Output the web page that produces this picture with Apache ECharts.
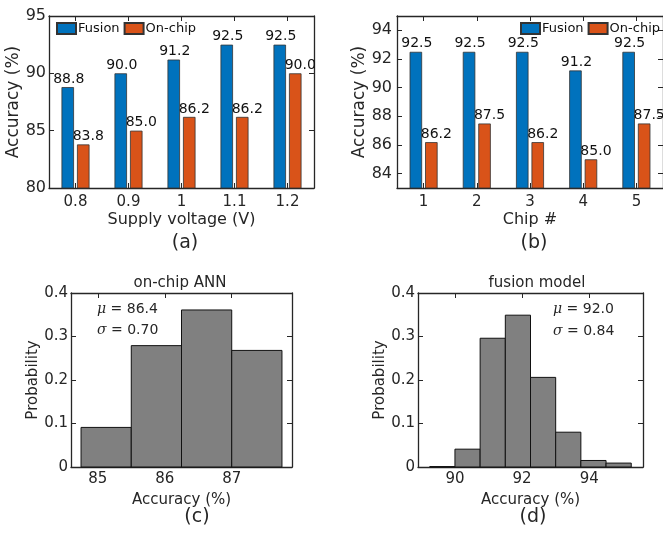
<!DOCTYPE html>
<html>
<head>
<meta charset="utf-8">
<script src="https://cdn.jsdelivr.net/npm/echarts@6/dist/echarts.min.js"></script>
<style>html,body{margin:0;padding:0;background:#fff}#c{width:663px;height:538px}</style>
</head>
<body>
<div id="c"></div>
<script>
const voltages = ['0.8', '0.9', '1', '1.1', '1.2'];
const fusionByVoltage = [88.8, 90.0, 91.2, 92.5, 92.5];
const onchipByVoltage = [83.8, 85.0, 86.2, 86.2, 90.0];
const chips = ['1', '2', '3', '4', '5'];
const fusionByChip = [92.5, 92.5, 92.5, 91.2, 92.5];
const onchipByChip = [86.2, 87.5, 86.2, 85.0, 87.5];
const onchipBinEdges = [84.75, 85.5, 86.25, 87.0, 87.75];
const onchipProb = [0.091, 0.279, 0.361, 0.268];
const fusionBinEdges = [89.25, 90.0, 90.75, 91.5, 92.25, 93.0, 93.75, 94.5, 95.25];
const fusionProb = [0.001, 0.041, 0.296, 0.349, 0.206, 0.080, 0.015, 0.009];
const ticksA = [80, 85, 90, 95];
const ticksB = [84, 86, 88, 90, 92, 94];
const ticksC = [85, 86, 87];
const ticksD = [90, 92, 94];
const ticksProb = [0, 0.1, 0.2, 0.3, 0.4];

const FONT = 'DejaVu Sans';
const TXT = '#262626';
const BLUE = '#0072BD';
const ORANGE = '#D95319';

function binsToData(edges, probs) {
  return probs.map((p, i) => [edges[i], edges[i + 1], p]);
}

const tickIn = { show: true, inside: true, length: 5, lineStyle: { color: TXT, width: 1 } };
const lineBox = { show: true, onZero: false, lineStyle: { color: TXT, width: 1.3 } };

function catAxis(grid, data, pos, showLabel, name, nameGap) {
  return {
    type: 'category', gridIndex: grid, data: data, position: pos,
    axisLine: lineBox,
    axisTick: Object.assign({ alignWithLabel: true }, tickIn),
    axisLabel: { show: showLabel, color: TXT, fontFamily: FONT, fontSize: 15, margin: 7 },
    name: name || '', nameLocation: 'middle', nameGap: nameGap || 0,
    nameTextStyle: { color: TXT, fontFamily: FONT, fontSize: 16 }
  };
}
function valAxis(grid, min, max, ticks, pos, showLabel, name, nameGap, fs, margin, fmt, nameFs) {
  return {
    type: 'value', gridIndex: grid, min: min, max: max, position: pos,
    axisLine: lineBox,
    splitLine: { show: false },
    axisTick: Object.assign({ customValues: ticks }, tickIn),
    axisLabel: { show: showLabel, customValues: ticks, color: TXT, fontFamily: FONT, fontSize: fs, margin: margin, formatter: fmt },
    name: name || '', nameLocation: 'middle', nameGap: nameGap || 0,
    nameTextStyle: { color: TXT, fontFamily: FONT, fontSize: nameFs || fs }
  };
}

function barSeries(name, x, y, data, color, dx) {
  return {
    type: 'bar', name: name, xAxisIndex: x, yAxisIndex: y, data: data,
    barWidth: 12.5, barGap: '24%',
    itemStyle: { color: color, borderColor: '#333', borderWidth: 0.8 },
    label: { show: true, position: 'top', distance: 1, offset: [dx, 0], color: '#111', fontFamily: FONT, fontSize: 14,
             formatter: p => p.value.toFixed(1) }
  };
}
function histSeries(x, y, data) {
  return {
    type: 'custom', xAxisIndex: x, yAxisIndex: y, data: data,
    encode: { x: [0, 1], y: 2 },
    renderItem: function (params, api) {
      const a = api.coord([api.value(0), api.value(2)]);
      const b = api.coord([api.value(1), 0]);
      return { type: 'rect', shape: { x: a[0], y: a[1], width: b[0] - a[0], height: b[1] - a[1] },
               style: { fill: '#808080', stroke: '#111', lineWidth: 1 } };
    }
  };
}
function txt(x, y, text, size, align, extra) {
  return Object.assign({ type: 'text', x: x, y: y,
    style: { text: text, fill: TXT, font: size + 'px "' + FONT + '"', align: align || 'center', verticalAlign: 'middle' } }, extra || {});
}
function stat(x, y, sym, val) {
  return { type: 'text', x: x, y: y,
    style: { text: '{i|' + sym + '} = ' + val, fill: TXT, font: '14px "' + FONT + '"', align: 'left', verticalAlign: 'middle',
             rich: { i: { fontStyle: 'italic', fontFamily: 'DejaVu Serif', fontSize: 14, fill: TXT } } } };
}

const probFmt = v => (v === 0 ? '0' : v.toFixed(1));

const option = {
  animation: false,
  backgroundColor: '#fff',
  grid: [
    { left: 49, top: 16, width: 265, height: 172 },
    { left: 397, top: 16, width: 268, height: 172 },
    { left: 71, top: 293, width: 221, height: 174 },
    { left: 418, top: 293, width: 225, height: 174 }
  ],
  xAxis: [
    catAxis(0, voltages, 'bottom', true, 'Supply voltage (V)', 24),
    catAxis(0, voltages, 'top', false),
    catAxis(1, chips, 'bottom', true, 'Chip #', 24),
    catAxis(1, chips, 'top', false),
    valAxis(2, 84.6, 87.9, ticksC, 'bottom', true, 'Accuracy (%)', 26, 15, 5, undefined, 15),
    valAxis(2, 84.6, 87.9, ticksC, 'top', false),
    valAxis(3, 88.9, 95.6, ticksD, 'bottom', true, 'Accuracy (%)', 26, 15, 5, undefined, 15),
    valAxis(3, 88.9, 95.6, ticksD, 'top', false)
  ],
  yAxis: [
    valAxis(0, 80, 95, ticksA, 'left', true, 'Accuracy (%)', 19, 16, 3, undefined, 17),
    valAxis(0, 80, 95, ticksA, 'right', false),
    valAxis(1, 83, 95, ticksB, 'left', true, 'Accuracy (%)', 21, 16, 5, undefined, 17),
    valAxis(1, 83, 95, ticksB, 'right', false),
    valAxis(2, 0, 0.4, ticksProb, 'left', true, 'Probability', 29, 15, 3, probFmt, 15),
    valAxis(2, 0, 0.4, ticksProb, 'right', false),
    valAxis(3, 0, 0.4, ticksProb, 'left', true, 'Probability', 28, 15, 3, probFmt, 15),
    valAxis(3, 0, 0.4, ticksProb, 'right', false)
  ],
  legend: [
    { left: 56, top: 22, padding: 0, itemWidth: 19, itemHeight: 11, itemGap: 4, icon: 'rect',
      data: ['Fusion', 'On-chip'], textStyle: { color: '#111', fontFamily: FONT, fontSize: 13, padding: [0, 0, 0, -3] } },
    { left: 520, top: 22, padding: 0, itemWidth: 19, itemHeight: 11, itemGap: 4, icon: 'rect',
      data: ['Fusion', 'On-chip'], textStyle: { color: '#111', fontFamily: FONT, fontSize: 13, padding: [0, 0, 0, -3] } }
  ],
  series: [
    barSeries('Fusion', 0, 0, fusionByVoltage, BLUE, 1),
    barSeries('On-chip', 0, 0, onchipByVoltage, ORANGE, 5),
    barSeries('Fusion', 2, 2, fusionByChip, BLUE, 1),
    barSeries('On-chip', 2, 2, onchipByChip, ORANGE, 5),
    histSeries(4, 4, binsToData(onchipBinEdges, onchipProb)),
    histSeries(6, 6, binsToData(fusionBinEdges, fusionProb))
  ],
  graphic: [
    txt(185, 243, '(a)', 19),
    txt(534, 243, '(b)', 19),
    txt(197, 517, '(c)', 19),
    txt(533, 517, '(d)', 19),
    txt(180, 283, 'on-chip ANN', 15),
    txt(537, 283, 'fusion model', 15),
    stat(97, 309, 'μ', '86.4'),
    stat(97, 330, 'σ', '0.70'),
    stat(553, 309, 'μ', '92.0'),
    stat(553, 331, 'σ', '0.84')
  ]
};

const chart = echarts.init(document.getElementById('c'), null, { renderer: 'canvas' });
chart.setOption(option);
</script>
</body>
</html>
